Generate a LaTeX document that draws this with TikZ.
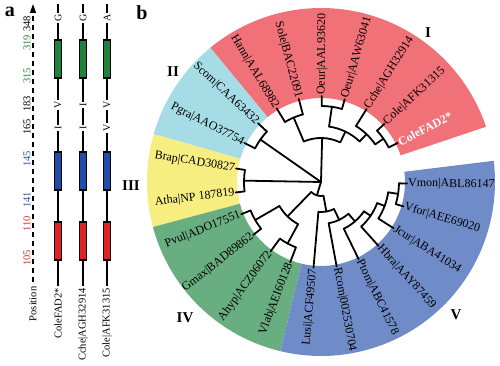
\documentclass[tikz,border=0pt]{standalone}
\usepackage{fontspec}
\setmainfont{Liberation Serif}
\usetikzlibrary{arrows.meta}
\definecolor{secR}{RGB}{240,113,120}
\definecolor{secC}{RGB}{166,220,230}
\definecolor{secY}{RGB}{246,238,128}
\definecolor{secG}{RGB}{104,174,128}
\definecolor{secB}{RGB}{112,140,200}
\definecolor{domG}{RGB}{30,130,60}
\definecolor{domB}{RGB}{35,75,170}
\definecolor{domR}{RGB}{225,35,35}
\definecolor{numG}{RGB}{40,130,70}
\definecolor{numB}{RGB}{50,80,160}
\definecolor{numR}{RGB}{210,50,50}
\tikzset{
  br/.style={line width=1.8pt, line cap=round, line join=round},
  lbl/.style={font=\fontsize{12}{13}\selectfont, inner sep=1pt},
  lblb/.style={font=\fontsize{12}{13}\selectfont\bfseries},
  rom/.style={font=\fontsize{15}{16}\selectfont\bfseries},
  pnl/.style={font=\fontsize{20}{22}\selectfont\bfseries},
  num/.style={font=\fontsize{10.5}{11}\selectfont, rotate=90, inner sep=0.5pt},
  res/.style={font=\fontsize{10}{11}\selectfont, rotate=90, fill=white, inner sep=1pt},
  alb/.style={font=\fontsize{10.5}{11}\selectfont, rotate=90, anchor=east, inner sep=1pt},
  col/.style={line width=1.8pt},
  dom/.style={line width=1.3pt, draw=black}
}
\newcommand{\tb}[4]{\coordinate (#1) at (#2:#3pt); \coordinate (#1b) at (#2:#4pt); \draw[br] (#1b) -- (#1);}
\newcommand{\lfR}[5]{\tb{#1}{#2}{86}{#3}\node[lbl,rotate=#2,anchor=west,#5] (#1t) at (#1) {#4};}
\newcommand{\lfL}[5]{\tb{#1}{#2}{86}{#3}\node[lbl,rotate=#2+180,anchor=east,#5] (#1t) at (#1) {#4};}
\newcommand{\sect}[3]{\fill[#1] (#2:84pt) arc[start angle=#2,end angle=#3,radius=84pt] -- (#3:174pt) arc[start angle=#3,end angle=#2,radius=174pt] -- cycle;}
\begin{document}
\begin{tikzpicture}[x=1pt,y=1pt]
\useasboundingbox (0,0) rectangle (500,366);
% ---------------- panel a ----------------
\node[pnl] (pa) at (10,354) {a};
\coordinate (axb) at (33,84);
\coordinate (axt) at (33,362);
\draw[line width=1.2pt, dash pattern=on 5pt off 4pt, -{Triangle[length=9pt,width=6pt]}] (axb) -- (axt);
\node[num, anchor=east] (pos) at (33,80) {Position};
\node[num] (n348) at (27,342) {348};
\node[num, text=numG] (n319) at (27,323) {319};
\node[num, text=numG] (n315) at (27,290) {315};
\node[num] (n183) at (27,262) {183};
\node[num] (n165) at (27,239) {165};
\node[num, text=numB] (n145) at (27,207) {145};
\node[num, text=numB] (n141) at (27,166) {141};
\node[num, text=numR] (n110) at (27,142) {110};
\node[num, text=numR] (n105) at (27,108) {105};
% columns
\foreach \cx/\nm in {58/c1, 83/c2, 107/c3}{
  \coordinate (\nm t) at (\cx,362);
  \coordinate (\nm b) at (\cx,80);
  \draw[col] (\nm t) -- (\nm b);
  \filldraw[dom, fill=domG] (\cx-3.5,288) rectangle (\cx+3.5,326);
  \filldraw[dom, fill=domB] (\cx-3.5,176) rectangle (\cx+3.5,214);
  \filldraw[dom, fill=domR] (\cx-3.5,106) rectangle (\cx+3.5,144);
}
\node[res] (r1a) at (58,348) {G};
\node[res] (r1b) at (58,261) {V};
\node[res] (r1c) at (58,238) {I};
\node[res] (r2a) at (83,348) {G};
\node[res] (r2b) at (83,261) {I};
\node[res] (r2c) at (83,238) {I};
\node[res] (r3a) at (107,348) {A};
\node[res] (r3b) at (107,261) {V};
\node[res] (r3c) at (107,238) {V};
\node[alb] (la1) at (58,79) {ColeFAD2*};
\node[alb] (la2) at (83,79) {Cche|AGH32914};
\node[alb] (la3) at (107,79) {Cole|AFK31315};
% ---------------- panel b ----------------
\node[pnl] (pb) at (142,353) {b};
\begin{scope}[shift={(321,184)}]
\sect{secR}{18.5}{129.5}
\sect{secC}{129.5}{164}
\sect{secY}{164}{195}
\sect{secG}{195}{256.5}
\sect{secB}{256.5}{367}
% clade I
\tb{RED}{88.5}{44}{0}
\tb{HS}{113}{70}{44}
\tb{RR}{64.1}{56}{44}
\draw[br] (RRb) arc[start angle=64.1,end angle=113,radius=44pt];
\tb{OP}{81.75}{76}{56}
\tb{CC}{46.4}{66}{56}
\draw[br] (CCb) arc[start angle=46.4,end angle=81.75,radius=56pt];
\tb{CP}{34.75}{76}{66}
\lfR{L1}{27}{76}{ColeFAD2*}{text=white,lblb}
\lfR{L2}{42.5}{76}{Cole|AFK31315}{}
\draw[br] (L1b) arc[start angle=27,end angle=42.5,radius=76pt];
\lfR{L3}{58}{66}{Cche|AGH32914}{}
\draw[br] (CPb) arc[start angle=34.75,end angle=58,radius=66pt];
\lfR{L4}{74}{76}{Oeur|AAW63041}{}
\lfR{L5}{89.5}{76}{Oeur|AAL93620}{}
\draw[br] (L4b) arc[start angle=74,end angle=89.5,radius=76pt];
\lfL{L6}{105}{70}{Sole|BAC22091}{}
\lfL{L7}{121}{70}{Hann|AAL68982}{}
\draw[br] (L6b) arc[start angle=105,end angle=121,radius=70pt];
% clade II
\tb{CY}{145}{74}{0}
\lfL{L8}{137}{74}{Scom|CAA63432}{}
\lfL{L9}{153}{74}{Pgra|AAO37754}{}
\draw[br] (L8b) arc[start angle=137,end angle=153,radius=74pt];
% clade III
\tb{YE}{179}{77}{0}
\lfL{L10}{171}{77}{Brap|CAD30827}{}
\lfL{L11}{187}{77}{Atha|NP 187819}{}
\draw[br] (L10b) arc[start angle=171,end angle=187,radius=77pt];
% clades IV and V
\tb{LO}{253}{14}{0}
\tb{GR}{225.75}{48}{14}
\tb{BL}{280.3}{30}{14}
\draw[br] (GRb) arc[start angle=225.75,end angle=280.3,radius=14pt];
\tb{PG}{210}{76}{48}
\tb{AV}{241.5}{70}{48}
\draw[br] (PGb) arc[start angle=210,end angle=241.5,radius=48pt];
\lfL{L12}{202}{76}{Pvul|ADO17551}{}
\lfL{L13}{218}{76}{Gmax|BAD89862}{}
\draw[br] (L12b) arc[start angle=202,end angle=218,radius=76pt];
\lfL{L14}{234}{70}{Ahyp|ACZ06072}{}
\lfL{L15}{249}{70}{Vlab|AEI60128}{}
\draw[br] (L14b) arc[start angle=234,end angle=249,radius=70pt];
\lfL{L16}{265}{30}{Lusi|ACF49507}{}
\tb{RN}{295.7}{42}{30}
\draw[br] (L16b) arc[start angle=265,end angle=295.7,radius=30pt];
\lfR{L17}{280.5}{42}{Rcom|002530704}{}
\tb{PN}{310.8}{52}{42}
\draw[br] (L17b) arc[start angle=280.5,end angle=310.8,radius=42pt];
\lfR{L18}{296}{52}{Ptom|ABC41578}{}
\tb{HN}{325.7}{60}{52}
\draw[br] (L18b) arc[start angle=296,end angle=325.7,radius=52pt];
\lfR{L19}{312}{60}{Hbra|AAY87459}{}
\tb{JN}{339.4}{68}{60}
\draw[br] (L19b) arc[start angle=312,end angle=339.4,radius=60pt];
\lfR{L20}{327.5}{68}{Jcur|ABA41034}{}
\tb{VV}{351.25}{78}{68}
\draw[br] (L20b) arc[start angle=327.5,end angle=351.25,radius=68pt];
\lfR{L21}{343.5}{78}{Vfor|AEE69020}{}
\lfR{L22}{359}{78}{Vmon|ABL86147}{}
\draw[br] (L21b) arc[start angle=343.5,end angle=359,radius=78pt];
\end{scope}
\node[rom] (cI) at (428,333) {I};
\node[rom] (cII) at (173,294) {II};
\node[rom] (cIII) at (131,180) {III};
\node[rom] (cIV) at (185,48) {IV};
\node[rom] (cV) at (456,51) {V};
\end{tikzpicture}
\end{document}
